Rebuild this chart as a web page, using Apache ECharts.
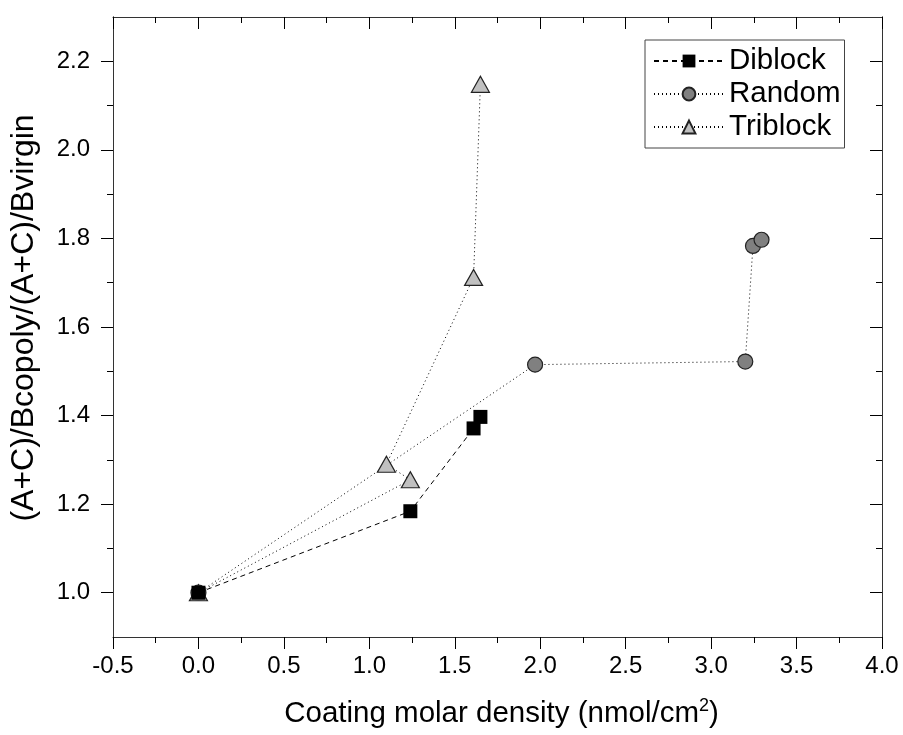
<!DOCTYPE html>
<html>
<head>
<meta charset="utf-8">
<script src="https://cdn.jsdelivr.net/npm/echarts@6/dist/echarts.min.js"></script>
<style>
  html, body { margin: 0; padding: 0; background: #fff; }
  #chart { width: 903px; height: 735px; }
</style>
</head>
<body>
<div id="chart"></div>
<script>
// data
var diblock = [[0, 1.0], [1.24, 1.184], [1.61, 1.371], [1.65, 1.397]];
var random = [[0, 1.0], [1.97, 1.515], [3.20, 1.522], [3.245, 1.783], [3.295, 1.797]];
var triblock = [[0, 1.0], [1.24, 1.255], [1.10, 1.290], [1.61, 1.712], [1.65, 2.148]];

var yMajorTicks = [1.0, 1.2, 1.4, 1.6, 1.8, 2.0, 2.2];
var yMinorTicks = [1.1, 1.3, 1.5, 1.7, 1.9, 2.1];

(function() {
    var font = 'Liberation Sans, Arial, sans-serif';
    var frame = '#333';

    function x_axis(pos, inside) {
        return {
            type: 'value',
            position: pos,
            min: -0.5,
            max: 4.0,
            interval: 0.5,
            axisLine: { show: true, onZero: false, lineStyle: { color: frame, width: 1 } },
            axisTick: { show: true, inside: inside, length: 12, lineStyle: { color: '#000' } },
            minorTick: { show: true, splitNumber: 2, length: 6, lineStyle: { color: '#000' } },
            splitLine: { show: false },
            axisLabel: {
                show: pos == 'bottom',
                margin: 17,
                fontSize: 24,
                fontFamily: font,
                color: '#000',
                formatter: function(v) { return v.toFixed(1); }
            },
        };
    }

    function y_axis(pos, inside, ticks, len, labels) {
        return {
            type: 'value',
            position: pos,
            min: 0.9,
            max: 2.3,
            axisLine: { show: true, onZero: false, lineStyle: { color: frame, width: 1 } },
            axisTick: { show: true, inside: inside, length: len, customValues: ticks, lineStyle: { color: '#000' } },
            splitLine: { show: false },
            axisLabel: {
                show: labels,
                customValues: ticks,
                margin: 23,
                fontSize: 24,
                fontFamily: font,
                color: '#000',
                formatter: function(v) { return v.toFixed(1); }
            },
        };
    }

    var xs = [x_axis('bottom', false), x_axis('top', true)];
    xs[0].name = 'Coating molar density (nmol/cm{sup|2})';
    xs[0].nameLocation = 'middle';
    xs[0].nameGap = 60;
    xs[0].nameTextStyle = {
        fontSize: 29.5, fontFamily: font, color: '#000', padding: [0, 0, 0, 8],
        rich: { sup: { fontSize: 18, fontFamily: font, color: '#000', padding: [0, 0, 16, 0] } }
    };

    var ys = [
        y_axis('left', false, yMajorTicks, 12, true),
        y_axis('left', false, yMinorTicks, 6, false),
        y_axis('right', true, yMajorTicks, 12, false),
        y_axis('right', true, yMinorTicks, 6, false),
    ];
    ys[0].name = '(A+C)/Bcopoly/(A+C)/Bvirgin';
    ys[0].nameLocation = 'middle';
    ys[0].nameGap = 73;
    ys[0].nameTextStyle = { fontSize: 32, fontFamily: font, color: '#000', padding: [0, 0, 0, 18] };

    var option = {
        animation: false,
        backgroundColor: '#fff',
        grid: { left: 113, right: 21, top: 17, bottom: 98 },
        xAxis: xs,
        yAxis: ys,
        legend: {
            orient: 'vertical',
            left: 645,
            top: 40,
            padding: [5, 4, 5, 8],
            itemGap: 1,
            itemWidth: 70,
            itemHeight: 16,
            borderColor: '#444',
            borderWidth: 1,
            borderRadius: 0,
            textStyle: { fontSize: 29.5, fontFamily: font, color: '#000', lineHeight: 32 },
            data: ['Diblock', 'Random', 'Triblock'],
        },
        series: [
            {
                name: 'Diblock',
                type: 'line',
                data: diblock,
                symbol: 'rect',
                symbolSize: 14,
                itemStyle: { color: '#000', borderColor: '#000', borderWidth: 0 },
                lineStyle: { color: '#000', width: 1, type: [5, 4] },
                z: 3,
            },
            {
                name: 'Random',
                type: 'line',
                data: random,
                symbol: 'circle',
                symbolSize: 15,
                itemStyle: { color: '#808080', borderColor: '#222', borderWidth: 1.2 },
                lineStyle: { color: '#000', width: 1, type: [1, 3] },
                z: 2,
            },
            {
                name: 'Triblock',
                type: 'line',
                data: triblock,
                symbol: 'triangle',
                symbolSize: [18, 16],
                itemStyle: { color: '#c0c0c0', borderColor: '#222', borderWidth: 1.2 },
                lineStyle: { color: '#000', width: 1, type: [1, 3] },
                z: 2,
            },
        ],
    };
    var myChart = echarts.init(document.getElementById('chart'));
    myChart.setOption(option);
})();
</script>
</body>
</html>
